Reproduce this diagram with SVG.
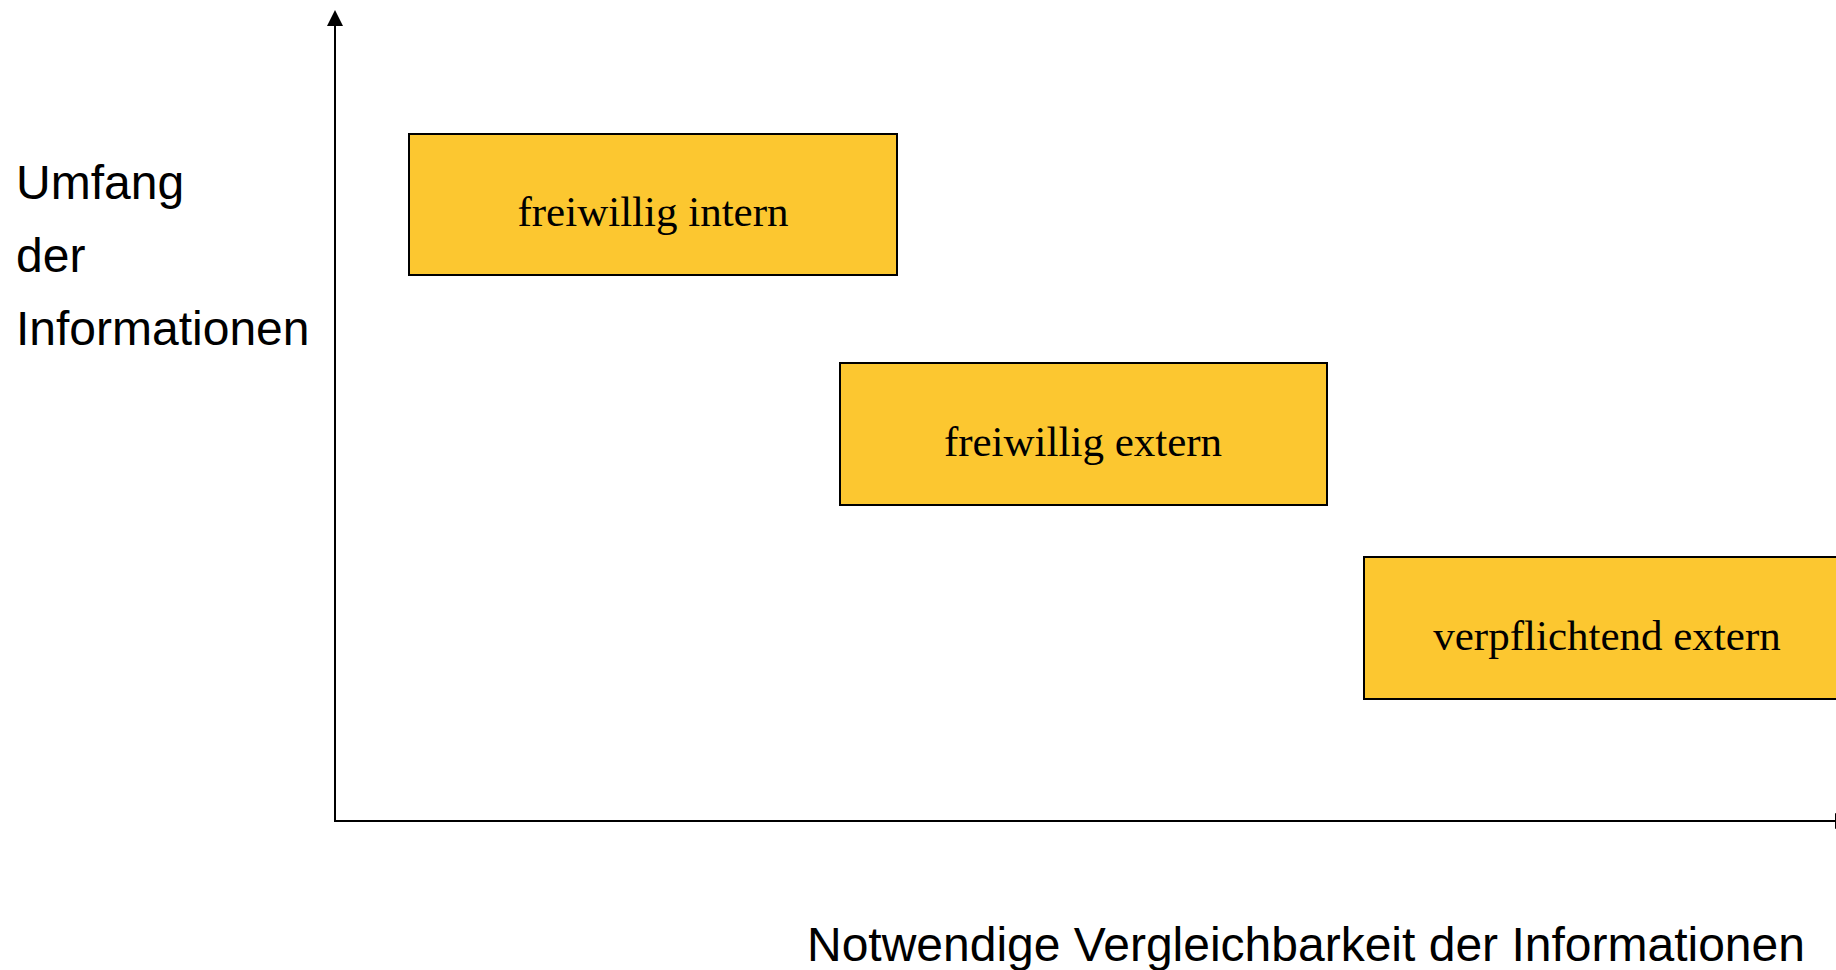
<svg xmlns="http://www.w3.org/2000/svg" width="1836" height="970" viewBox="0 0 1836 970">
  <style>
    .box { fill: #FCC730; stroke: #000; stroke-width: 2; }
    .boxlabel { font-family: "Liberation Serif", "Times New Roman", serif; font-size: 43px; fill: #000; text-anchor: middle; }
    .axislabel { font-family: "Liberation Sans", Arial, sans-serif; font-size: 48px; fill: #000; }
    .axis { stroke: #000; stroke-width: 2; fill: none; }
  </style>
  <defs>
    <marker id="arrow" viewBox="0 0 16 16" refX="0" refY="8" markerWidth="16" markerHeight="16" markerUnits="userSpaceOnUse" orient="auto">
      <path d="M0,0 L16,8 L0,16 Z" fill="#000"/>
    </marker>
  </defs>
  <rect width="1836" height="970" fill="#fff"/>

  <!-- axes -->
  <g id="connectors">
    <line class="axis" x1="335" y1="821" x2="335" y2="26" marker-end="url(#arrow)"/>
    <line class="axis" x1="334" y1="821" x2="1835" y2="821" marker-end="url(#arrow)"/>
  </g>

  <!-- axis labels -->
  <g id="y-label">
    <text class="axislabel" x="16" y="199">Umfang</text>
    <text class="axislabel" x="16" y="272">der</text>
    <text class="axislabel" x="16" y="345">Informationen</text>
  </g>
  <g id="x-label">
    <text class="axislabel" x="807" y="961">Notwendige Vergleichbarkeit der Informationen</text>
  </g>

  <!-- categories -->
  <g id="freiwillig-intern">
    <rect class="box" x="409" y="134" width="488" height="141"/>
    <text class="boxlabel" x="653" y="226">freiwillig intern</text>
  </g>
  <g id="freiwillig-extern">
    <rect class="box" x="840" y="363" width="487" height="142"/>
    <text class="boxlabel" x="1083" y="456">freiwillig extern</text>
  </g>
  <g id="verpflichtend-extern">
    <rect class="box" x="1364" y="557" width="488" height="142"/>
    <text class="boxlabel" x="1607" y="650">verpflichtend extern</text>
  </g>
</svg>
